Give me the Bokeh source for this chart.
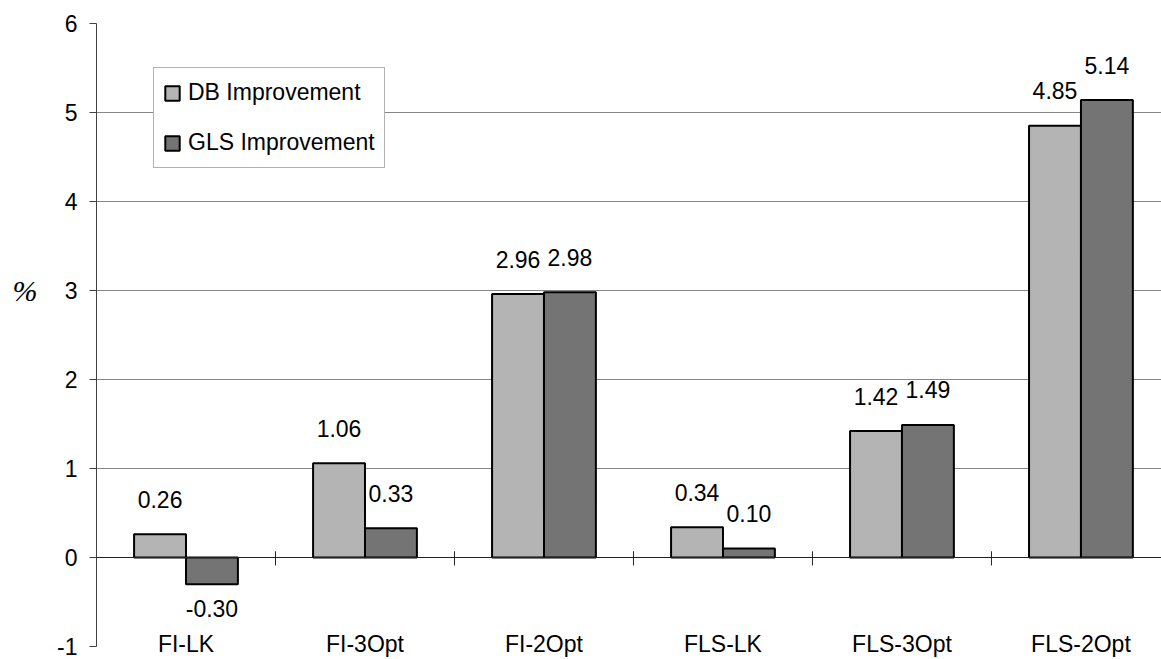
import numpy as np
from bokeh.plotting import figure
from bokeh.models import (Range1d, FixedTicker, Span, Legend, LegendItem,
                          LinearAxis)
from bokeh.core.properties import value
from bokeh.embed import file_html
from bokeh.resources import INLINE

# ---- data ----
categories = ["FI-LK", "FI-3Opt", "FI-2Opt", "FLS-LK", "FLS-3Opt", "FLS-2Opt"]
db_improvement = [0.26, 1.06, 2.96, 0.34, 1.42, 4.85]
gls_improvement = [-0.30, 0.33, 2.98, 0.10, 1.49, 5.14]
y_ticks = [-1, 0, 1, 2, 3, 4, 5, 6]
series_names = ["DB Improvement", "GLS Improvement"]
y_title = "%"

FONT = "Liberation Sans"
FS = "23px"
DB_COLOR = "#b4b4b4"
GLS_COLOR = "#747474"
BAR_W = 0.29

n = len(categories)
centers = np.arange(n) + 0.5
db_x = centers - BAR_W / 2
gls_x = centers + BAR_W / 2

p = figure(width=1161, height=659, output_backend="svg", toolbar_location=None,
           x_range=Range1d(0, 5.95), y_range=Range1d(y_ticks[0], y_ticks[-1]),
           min_border_left=96, min_border_right=0, min_border_top=23,
           min_border_bottom=13)
p.outline_line_color = None
p.background_fill_color = "white"
p.border_fill_color = "white"

# y axis
ya = p.yaxis[0]
ya.ticker = FixedTicker(ticks=y_ticks)
ya.major_label_overrides = {t: str(t) for t in y_ticks}
ya.axis_line_color = "#404040"
ya.axis_line_width = 1
ya.major_tick_line_color = "#404040"
ya.major_tick_out = 7
ya.major_tick_in = 0
ya.minor_tick_line_color = None
ya.major_label_text_font = FONT
ya.major_label_text_font_size = FS
ya.major_label_text_color = "black"
ya.major_label_standoff = 12

# outer left axis carrying the "%" title at the level of 3
pa = LinearAxis(ticker=FixedTicker(ticks=[3]), major_label_overrides={3: y_title},
                axis_line_color=None, major_tick_line_color=None,
                minor_tick_line_color=None, major_label_standoff=11,
                major_label_text_font="Liberation Serif",
                major_label_text_font_style="italic",
                major_label_text_font_size="30px", major_label_text_color="black")
p.add_layout(pa, "left")

# x axis: category names
xa = p.xaxis[0]
xa.ticker = FixedTicker(ticks=list(centers))
xa.major_label_overrides = {float(c): name for c, name in zip(centers, categories)}
xa.axis_line_color = None
xa.major_tick_line_color = None
xa.minor_tick_line_color = None
xa.major_label_text_font = FONT
xa.major_label_text_font_size = FS
xa.major_label_text_color = "black"
xa.major_label_standoff = -22

p.xgrid.grid_line_color = None
p.ygrid.ticker = FixedTicker(ticks=[t for t in y_ticks if t >= 0])
p.ygrid.grid_line_color = "#858585"
p.ygrid.grid_line_width = 1

# bars
r_db = p.vbar(x=db_x, top=db_improvement, bottom=0, width=BAR_W,
              fill_color=DB_COLOR, line_color="black", line_width=2)
r_gls = p.vbar(x=gls_x, top=gls_improvement, bottom=0, width=BAR_W,
               fill_color=GLS_COLOR, line_color="black", line_width=2)

# zero line and category boundary ticks
p.add_layout(Span(location=0, dimension="width", line_color="#222222", line_width=1))
bounds = np.arange(1, n)
p.segment(x0=bounds, x1=bounds, y0=-0.09, y1=0.07, line_color="#222222", line_width=1)

# value labels
def labels(xs, vals):
    vals = np.array(vals)
    offs = np.where(vals >= 0, -35, 24)
    txt = ["%.2f" % v for v in vals]
    p.text(x=xs, y=vals, text=txt, y_offset=offs, text_align="center",
           text_baseline="alphabetic", text_font=value(FONT),
           text_font_size=FS, text_color="black")

labels(db_x, db_improvement)
labels(gls_x, gls_improvement)

legend = Legend(items=[LegendItem(label=series_names[0], renderers=[r_db]),
                       LegendItem(label=series_names[1], renderers=[r_gls])],
                location=(57, 478), orientation="vertical")
legend.label_text_font = FONT
legend.label_text_font_size = FS
legend.label_text_color = "black"
legend.glyph_width = 18
legend.glyph_height = 18
legend.label_standoff = 7
legend.padding = 9
legend.spacing = 19
legend.label_height = 31
legend.margin = 0
legend.border_line_color = "#666666"
legend.border_line_width = 1
legend.background_fill_alpha = 1
p.add_layout(legend)

open("out.html", "w").write(file_html(p, INLINE))
